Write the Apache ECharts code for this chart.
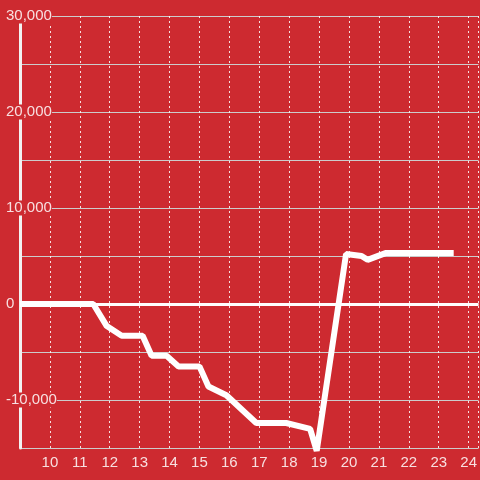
<!DOCTYPE html>
<html>
<head>
<meta charset="utf-8">
<script src="https://cdn.jsdelivr.net/npm/echarts@6/dist/echarts.min.js"></script>
<style>
  html, body { margin: 0; padding: 0; background: #cd2a30; }
  #main { width: 480px; height: 480px; }
</style>
</head>
<body>
<div id="main"></div>
<script>
// hour of day and balance
var hours = [9, 11.45, 11.9, 12.4, 13.1, 13.4, 13.9, 14.3, 15.0, 15.3, 15.9, 16.9, 17.9, 18.7, 18.92, 19.9, 20.42, 20.62, 21.22, 23.5];
var values = [0, 0, -2300, -3300, -3300, -5400, -5400, -6500, -6500, -8600, -9500, -12400, -12400, -13000, -15300, 5200, 5000, 4600, 5300, 5300];

var yMin = -15000, yMax = 30000, yStep = 5000;
var xMin = 9, xMax = 24.33;

var bg = '#cd2a30';
var txt = 'rgba(255,255,255,0.85)';

var myChart = echarts.init(document.getElementById('main'));

myChart.setOption({
  backgroundColor: bg,
  animation: false,
  grid: { left: 20, right: 0, top: 16, bottom: 32 },
  xAxis: {
    type: 'value',
    min: xMin,
    max: xMax,
    interval: 1,
    axisLine: { show: false },
    axisTick: { show: false },
    axisLabel: {
      color: txt,
      fontSize: 15,
      fontFamily: 'Liberation Sans',
      margin: 7,
      showMinLabel: false,
      showMaxLabel: false
    },
    splitLine: {
      show: true,
      lineStyle: { color: 'rgba(255,255,255,0.85)', width: 1, type: [2, 3] }
    }
  },
  yAxis: {
    type: 'value',
    min: yMin,
    max: yMax,
    interval: yStep,
    axisLine: { show: true, onZero: false, lineStyle: { color: '#f2f2f2', width: 3 } },
    axisTick: { show: false },
    axisLabel: {
      color: txt,
      fontSize: 15,
      fontFamily: 'Liberation Sans',
      align: 'left',
      margin: 14,
      backgroundColor: bg,
      formatter: function (v) {
        if (v % 10000 !== 0) return '';
        return v.toLocaleString('en-US');
      }
    },
    splitLine: { show: true, lineStyle: { color: '#cccccc', width: 1 } }
  },
  series: [{
    type: 'line',
    data: hours.map(function (h, i) { return [h, values[i]]; }),
    showSymbol: false,
    clip: false,
    lineStyle: { color: '#ffffff', width: 6 },
    markLine: {
      silent: true,
      symbol: 'none',
      label: { show: false },
      lineStyle: { color: '#ffffff', width: 3, type: 'solid' },
      data: [{ yAxis: 0 }]
    }
  }]
});
</script>
</body>
</html>
